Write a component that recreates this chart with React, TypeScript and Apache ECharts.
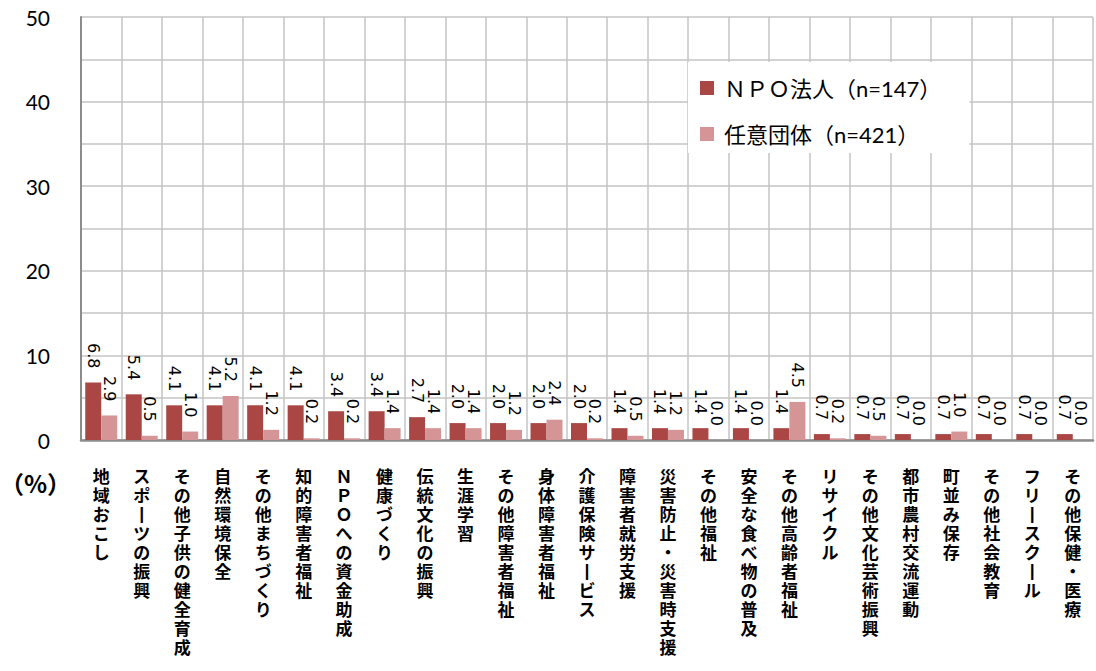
import React, { useEffect, useRef } from "react";
import * as echarts from "echarts";

const categories = [
  "地域おこし",
  "スポーツの振興",
  "その他子供の健全育成",
  "自然環境保全",
  "その他まちづくり",
  "知的障害者福祉",
  "ＮＰＯへの資金助成",
  "健康づくり",
  "伝統文化の振興",
  "生涯学習",
  "その他障害者福祉",
  "身体障害者福祉",
  "介護保険サービス",
  "障害者就労支援",
  "災害防止・災害時支援",
  "その他福祉",
  "安全な食べ物の普及",
  "その他高齢者福祉",
  "リサイクル",
  "その他文化芸術振興",
  "都市農村交流運動",
  "町並み保存",
  "その他社会教育",
  "フリースクール",
  "その他保健・医療",
];

const npoValues = [6.8, 5.4, 4.1, 4.1, 4.1, 4.1, 3.4, 3.4, 2.7, 2.0, 2.0, 2.0, 2.0, 1.4, 1.4, 1.4, 1.4, 1.4, 0.7, 0.7, 0.7, 0.7, 0.7, 0.7, 0.7];
const voluntaryValues = [2.9, 0.5, 1.0, 5.2, 1.2, 0.2, 0.2, 1.4, 1.4, 1.4, 1.2, 2.4, 0.2, 0.5, 1.2, 0.0, 0.0, 4.5, 0.2, 0.5, 0.0, 1.0, 0.0, 0.0, 0.0];

const seriesNames = ["ＮＰＯ法人（n=147）", "任意団体（n=421）"];
const yTicks = [0, 10, 20, 30, 40, 50];
const unitLabel = "（%）";

const latin = "Lato, 'Noto Sans CJK JP', sans-serif";

export default function App() {
  const ref = useRef<HTMLDivElement>(null);

  useEffect(() => {
    if (!ref.current) return;
    const chart = echarts.init(ref.current, null, { renderer: "svg" });
    const labelStyle = {
      show: true,
      position: "top" as const,
      rotate: -90,
      align: "right" as const,
      verticalAlign: "middle" as const,
      distance: 14,
      fontFamily: "'DejaVu Sans', sans-serif",
      fontSize: 16,
      color: "#000",
      formatter: (p: any) => Number(p.value).toFixed(1),
    };
    chart.setOption({
      animation: false,
      backgroundColor: "#fff",
      title: {
        text: unitLabel,
        left: 0,
        top: 470,
        padding: 0,
        textStyle: {
          fontFamily: "'Noto Sans CJK JP', sans-serif",
          fontSize: 24,
          fontWeight: "bold",
          color: "#000",
        },
      },
      grid: { left: 81, right: 3, top: 17, bottom: 231, containLabel: false },
      legend: {
        orient: "vertical",
        left: 688,
        top: 62,
        padding: [14, 28, 7, 12],
        backgroundColor: "#fff",
        itemWidth: 14,
        itemHeight: 14,
        itemGap: 22,
        icon: "rect",
        textStyle: {
          fontFamily: latin,
          fontSize: 22,
          lineHeight: 24,
          color: "#000",
          padding: [0, 0, 0, 5],
        },
        data: seriesNames,
      },
      xAxis: {
        type: "category",
        data: categories,
        axisLine: { lineStyle: { color: "#8c8c8c", width: 2.5 } },
        axisTick: { show: false },
        splitLine: { show: true, lineStyle: { color: "#c4c4c4", width: 1.5 } },
        axisLabel: {
          interval: 0,
          margin: 26,
          fontFamily: "'Noto Sans CJK JP', sans-serif",
          fontSize: 17,
          fontWeight: "bold",
          lineHeight: 19,
          color: "#000",
          verticalAlign: "top",
          formatter: (v: string) => v.replace(/ー/g, "丨").split("").join("\n"),
        },
      },
      yAxis: {
        type: "value",
        min: 0,
        max: 50,
        interval: 5,
        axisLine: { show: true, lineStyle: { color: "#8c8c8c", width: 2 } },
        axisTick: { show: false },
        splitLine: { show: true, lineStyle: { color: "#c4c4c4", width: 1.5 } },
        axisLabel: {
          margin: 31,
          fontFamily: latin,
          fontSize: 21,
          color: "#000",
          formatter: (v: number) => (yTicks.includes(v) ? String(v) : ""),
        },
      },
      series: [
        {
          name: seriesNames[0],
          type: "bar",
          data: npoValues,
          barGap: "0%",
          barCategoryGap: "21%",
          itemStyle: { color: "#aa4744" },
          label: labelStyle,
        },
        {
          name: seriesNames[1],
          type: "bar",
          data: voluntaryValues,
          barGap: "0%",
          barCategoryGap: "21%",
          itemStyle: { color: "#d59495" },
          label: labelStyle,
        },
      ],
    });
    return () => chart.dispose();
  }, []);

  return <div ref={ref} style={{ width: 1096, height: 671, position: "absolute", left: 0, top: 0 }} />;
}
